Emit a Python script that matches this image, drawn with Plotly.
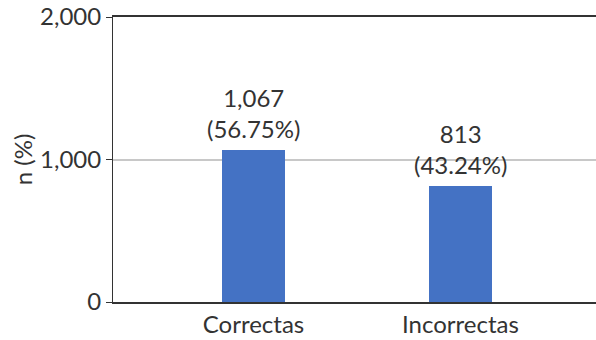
import plotly.graph_objects as go

categories = ["Correctas", "Incorrectas"]
counts = [1067, 813]
percents = ["56.75%", "43.24%"]
y_ticks = [0, 1000, 2000]
y_tick_labels = ["0", "1,000", "2,000"]

labels = [f"{c:,}<br>({p})" for c, p in zip(counts, percents)]

FONT = "Lato"
TXT = "#333333"
FS = 24

fig = go.Figure(go.Bar(
    x=categories, y=counts,
    marker=dict(color="#4472C4", line=dict(width=0)),
    width=0.304, cliponaxis=False,
))

for cat, val, lab in zip(categories, counts, labels):
    fig.add_annotation(
        x=cat, y=val, text=lab, showarrow=False,
        xanchor="center", yanchor="bottom", yshift=5,
        font=dict(family=FONT, size=FS, color=TXT),
    )

fig.update_layout(
    width=596, height=340,
    margin=dict(l=113, r=0, t=17, b=38),
    paper_bgcolor="white", plot_bgcolor="white",
    font=dict(family=FONT, size=FS, color=TXT),
    showlegend=False,
    bargap=0,
)
fig.update_xaxes(
    type="category", range=[-0.679, 1.655],
    showline=True, linecolor="#333333", linewidth=1.5, mirror=True,
    ticks="", showgrid=False,
    tickfont=dict(family=FONT, size=FS, color=TXT),
)
fig.update_yaxes(
    range=[0, 2000], tickvals=y_ticks, ticktext=y_tick_labels,
    showline=True, linecolor="#333333", linewidth=1,
    ticks="outside", ticklen=6, tickcolor="#333333",
    showgrid=True, gridcolor="#c8c8c8", gridwidth=1.5,
    zeroline=False,
    tickfont=dict(family=FONT, size=FS, color=TXT),
    title=dict(text="n (%)", font=dict(family=FONT, size=FS, color=TXT), standoff=0),
)

fig.write_html("out.html")
